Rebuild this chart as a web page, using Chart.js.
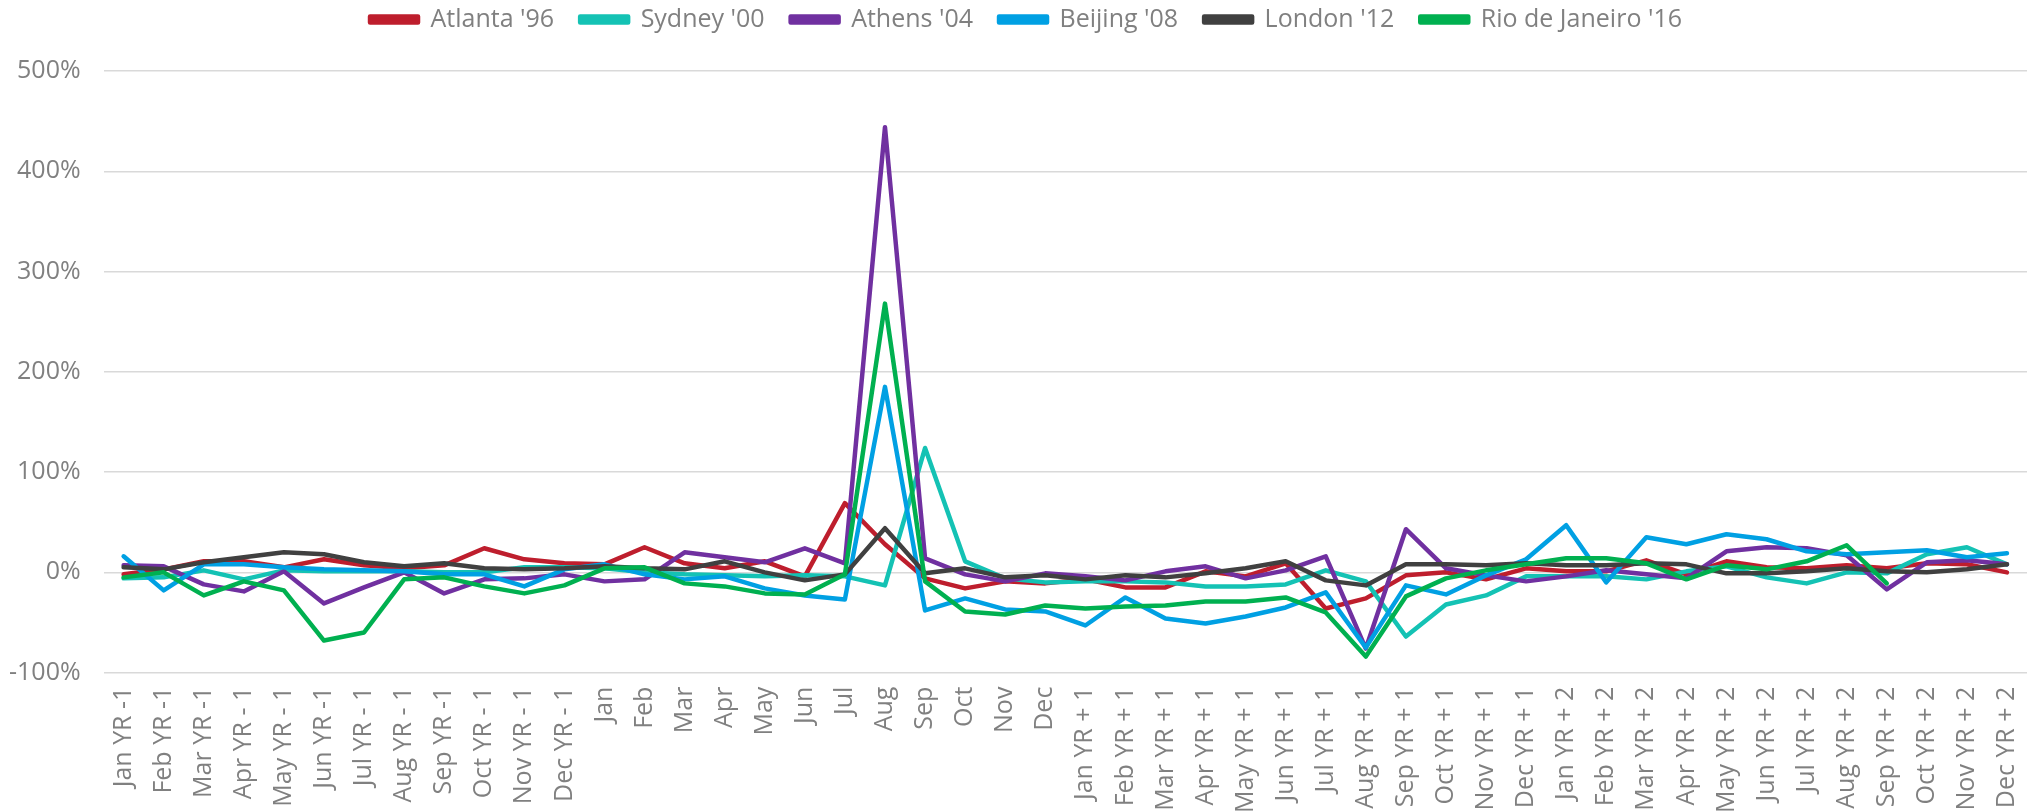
<!DOCTYPE html>
<html>
<head>
<meta charset="utf-8">
<script src="https://cdn.jsdelivr.net/npm/chart.js@4.4.0/dist/chart.umd.min.js"></script>
<style>
  html, body { margin: 0; padding: 0; background: #ffffff; }
  #wrap { width: 2035px; height: 812px; position: relative; }
</style>
</head>
<body>
<div id="wrap"><canvas id="c" width="2035" height="812"></canvas></div>
<script>
const categories = [
  'Jan YR -1','Feb YR -1','Mar YR -1','Apr YR - 1','May YR - 1','Jun YR -1','Jul YR - 1','Aug YR - 1','Sep YR -1','Oct YR - 1','Nov YR - 1','Dec YR - 1',
  'Jan','Feb','Mar','Apr','May','Jun','Jul','Aug','Sep','Oct','Nov','Dec',
  'Jan YR + 1','Feb YR + 1','Mar YR + 1','Apr YR + 1','May YR + 1','Jun YR + 1','Jul YR + 1','Aug YR + 1','Sep YR + 1','Oct YR + 1','Nov YR + 1','Dec YR + 1',
  'Jan YR + 2','Feb YR + 2','Mar YR + 2','Apr YR + 2','May YR + 2','Jun YR + 2','Jul YR + 2','Aug YR + 2','Sep YR + 2','Oct YR + 2','Nov YR + 2','Dec YR + 2'
];

const seriesNames = ["Atlanta '96", "Sydney '00", "Athens '04", "Beijing '08", "London '12", "Rio de Janeiro '16"];

const atlanta = [-2,3,11,11,5,13,7,4,7,24,13,9, 8,25,9,4,11,-4,69,28,-6,-16,-9,-11, -7,-15,-15,1,-4,9,-36,-26,-3,0,-7,4, 1,1,12,-2,11,5,4,7,4,9,8,0];
const sydney  = [-6,-5,2,-7,2,1,1,1,0,0,5,5, 4,0,-2,-3,-4,-3,-4,-13,124,11,-6,-10, -9,-9,-10,-14,-14,-12,2,-9,-64,-32,-23,-4, -4,-4,-7,1,6,-5,-11,0,-1,18,25,8];
const athens  = [7,6,-12,-19,1,-31,-15,0,-21,-7,-6,-2, -9,-7,20,15,10,24,9,444,14,-2,-9,-1, -4,-8,1,6,-6,2,16,-76,43,4,-3,-9, -4,2,-2,-6,21,25,24,17,-17,10,12,8];
const beijing = [16,-18,8,8,5,3,2,1,-2,-2,-14,3, 8,-2,-7,-4,-16,-23,-27,185,-38,-26,-37,-39, -53,-25,-46,-51,-44,-35,-20,-75,-13,-22,-3,13, 47,-10,35,28,38,33,21,18,20,22,15,19];
const london  = [5,3,10,15,20,18,10,6,9,4,3,4, 6,4,3,11,0,-8,-2,44,-1,4,-5,-3, -7,-3,-5,-1,4,11,-8,-13,8,8,7,9, 7,7,9,8,-1,-1,1,4,1,0,3,8];
const rio     = [-5,0,-23,-9,-18,-68,-60,-7,-5,-14,-21,-13, 4,5,-11,-14,-21,-22,-2,268,-9,-39,-42,-33, -36,-34,-33,-29,-29,-25,-40,-84,-24,-6,2,8, 14,14,9,-7,7,3,11,27,-11,null,null,null];

const yTicks = { min: -100, max: 500, step: 100 };

const colors = ['#BE1E2D', '#14C2B4', '#7030A0', '#00A0E3', '#404040', '#00B050'];
const seriesData = [atlanta, sydney, athens, beijing, london, rio];

const FONT = "'Open Sans', 'DejaVu Sans', sans-serif";
const TEXT = '#808080';
const LEGEND_CENTER = 1026;

const legendFit = {
  id: 'legendFit',
  beforeInit(chart) {
    const orig = chart.legend.fit;
    chart.legend.fit = function () { orig.call(this); this.height = 90; };
  },
  afterLayout(chart) {
    const lg = chart.legend;
    const shift = LEGEND_CENTER - (lg.left + lg.right) / 2;
    lg.left += shift;
    lg.right += shift;
  }
};

new Chart(document.getElementById('c'), {
  type: 'line',
  data: {
    labels: categories,
    datasets: seriesData.map((d, i) => ({
      label: seriesNames[i],
      data: d,
      borderColor: colors[i],
      backgroundColor: colors[i],
      borderWidth: 4.5,
      pointRadius: 0,
      pointHoverRadius: 0,
      tension: 0,
      fill: false,
      spanGaps: false,
      borderJoinStyle: 'round',
      borderCapStyle: 'round',
      order: seriesData.length - i
    }))
  },
  options: {
    responsive: false,
    animation: false,
    devicePixelRatio: 1,
    layout: { padding: { top: -19, left: -14, right: 8, bottom: -15 } },
    plugins: {
      tooltip: { enabled: false },
      legend: {
        position: 'top',
        align: 'center',
        labels: {
          font: { family: FONT, size: 25 },
          color: TEXT,
          boxWidth: 48,
          boxHeight: 6,
          padding: 26,
          sort: (a, b) => a.datasetIndex - b.datasetIndex
        }
      }
    },
    scales: {
      x: {
        type: 'category',
        offset: true,
        grid: { display: false, drawTicks: false },
        border: { display: false },
        afterFit(scale) { scale.paddingLeft = 0; scale.paddingRight = 0; },
        ticks: {
          autoSkip: false,
          minRotation: 90,
          maxRotation: 90,
          padding: 14,
          color: TEXT,
          font: { family: FONT, size: 25 }
        }
      },
      y: {
        min: yTicks.min,
        max: yTicks.max,
        grid: { color: '#d9d9d9', lineWidth: 1.4, drawTicks: false },
        border: { display: false },
        ticks: {
          stepSize: yTicks.step,
          padding: 23,
          color: TEXT,
          font: { family: FONT, size: 25 },
          callback: v => v + '%'
        }
      }
    }
  },
  plugins: [legendFit]
});
</script>
</body>
</html>
